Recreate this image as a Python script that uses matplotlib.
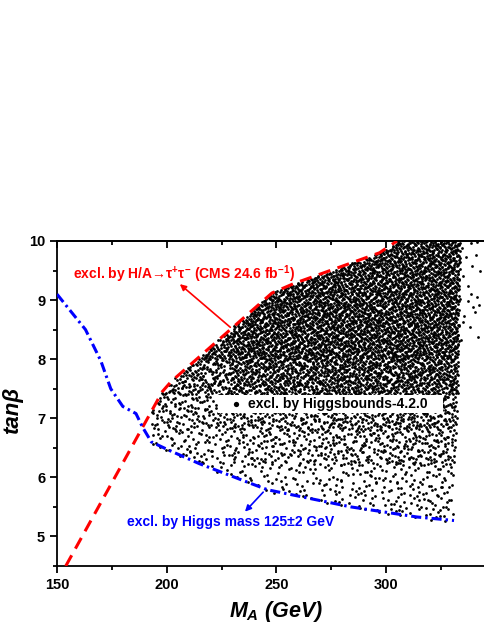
import matplotlib
matplotlib.use('Agg')
import matplotlib.pyplot as plt
from matplotlib.patches import Rectangle
from matplotlib.ticker import MultipleLocator
import numpy as np

plt.rcParams['font.family'] = ['Liberation Sans', 'DejaVu Sans']
plt.rcParams['font.weight'] = 'bold'
plt.rcParams['mathtext.fontset'] = 'custom'
plt.rcParams['mathtext.rm'] = 'Liberation Sans:bold'
plt.rcParams['mathtext.it'] = 'Liberation Sans:italic:bold'
plt.rcParams['mathtext.bf'] = 'Liberation Sans:bold'

# CMS H/A -> tau tau exclusion line (red dashed)
red_x = [154, 198, 202, 248, 258, 297, 305]
red_y = [4.5, 7.45, 7.62, 9.12, 9.28, 9.80, 10.0]

# Higgs mass 125+-2 GeV exclusion line (blue dash-dot)
blue_x = [150, 163, 170, 174.5, 180, 186, 189, 193, 201, 215, 236, 246, 284, 314, 331]
blue_y = [9.1, 8.5, 7.97, 7.5, 7.2, 7.08, 6.85, 6.6, 6.46, 6.23, 5.93, 5.79, 5.5, 5.33, 5.27]

# right edge of the scanned points
edge_y = [5.2, 7.0, 10.0]
edge_x = [330.5, 332.5, 334.0]

# relative point density of the Higgsbounds-excluded cloud (rows: tanb bands)
dens_xedges = [190, 230, 270, 300, 345]
dens_yedges = [5.0, 6.2, 6.8, 7.4, 8.0, 10.0]
dens_table = [
    [0.10, 0.12, 0.15, 0.18],
    [0.18, 0.25, 0.30, 0.35],
    [0.30, 0.40, 0.45, 0.50],
    [0.55, 0.80, 0.85, 0.85],
    [0.85, 1.00, 1.00, 1.00],
]
peak_density = 23  # points per (GeV x unit tanb) in the darkest part


def halton(n, base):
    i = np.arange(1, n + 1)
    f = 1.0
    r = np.zeros(n)
    while np.any(i > 0):
        f /= base
        r += f * (i % base)
        i //= base
    return r


# the cloud has thousands of dots that can't be read one by one:
# fill the outline above with a fixed Halton sequence
box_x0, box_w = 190, 155
box_y0, box_h = 5.2, 4.8
n_cand = int(box_w * box_h * peak_density)
cx = box_x0 + halton(n_cand, 2) * box_w
cy = box_y0 + halton(n_cand, 3) * box_h
cu = halton(n_cand, 5)

ix = np.clip(np.searchsorted(dens_xedges, cx) - 1, 0, len(dens_xedges) - 2)
iy = np.clip(np.searchsorted(dens_yedges, cy) - 1, 0, len(dens_yedges) - 2)
dens = np.array(dens_table)[iy, ix]

inside = (cy <= np.interp(cx, red_x, red_y)) & (cy >= np.interp(cx, blue_x, blue_y) - 0.03) & (cx >= 193)
main = inside & (cx <= np.interp(cy, edge_y, edge_x)) & (cu < dens)
stray = inside & (cx > np.interp(cy, edge_y, edge_x)) & (cx < 343) & (cy > 8.3) & (cu < 0.05)
keep = main | stray
pts_x = cx[keep]
pts_y = cy[keep]

fig = plt.figure(figsize=(4.85, 6.27), dpi=100)
ax = fig.add_axes([57 / 485, 61 / 627, 438.7 / 485, 325 / 627])

ax.plot(pts_x, pts_y, 'o', color='black', ms=2.0, mew=0, zorder=2)
ax.plot(red_x, red_y, color='red', lw=2.2, dashes=(4, 2.5), zorder=3)
ax.plot(blue_x, blue_y, color='blue', lw=2.2, dashes=(3.3, 1.3, 0.8, 1.3), zorder=3)

# white label box for the Higgsbounds points
ax.add_patch(Rectangle((223.5, 7.09), 102.5, 0.30, facecolor='white', edgecolor='none', zorder=4))
ax.plot([231.6], [7.24], 'o', color='black', ms=3.8, mew=0, zorder=5)
ax.text(237, 7.24, 'excl. by Higgsbounds-4.2.0', fontsize=10, fontweight='bold',
        ha='left', va='center', zorder=5)

ax.text(157.3, 9.44, 'excl. by H/A\u2192\u03c4$^{+}$\u03c4$^{-}$ (CMS 24.6 fb$^{-1}$)',
        color='red', fontsize=10, fontweight='bold', ha='left', va='center', zorder=5)
ax.annotate('', xy=(206, 9.27), xytext=(229, 8.54),
            arrowprops=dict(arrowstyle='-|>', color='red', lw=1.2,
                            mutation_scale=9, shrinkA=0, shrinkB=0))
ax.annotate('', xy=(235.7, 5.42), xytext=(244, 5.75),
            arrowprops=dict(arrowstyle='-|>', color='blue', lw=1.2,
                            mutation_scale=9, shrinkA=0, shrinkB=0))
ax.text(181.9, 5.24, 'excl. by Higgs mass 125\u00b12 GeV', color='blue', fontsize=10,
        fontweight='bold', ha='left', va='center')

ax.set_xlim(150, 350)
ax.set_ylim(4.5, 10)
ax.set_xticks([150, 200, 250, 300])
ax.set_yticks([5, 6, 7, 8, 9, 10])
ax.xaxis.set_minor_locator(MultipleLocator(25))
ax.yaxis.set_minor_locator(MultipleLocator(0.5))
ax.tick_params(which='major', direction='out', length=5, width=1.3, labelsize=10.5)
ax.tick_params(which='minor', direction='out', length=3, width=1.3)
for lab in ax.get_xticklabels() + ax.get_yticklabels():
    lab.set_fontweight('bold')

top = ax.secondary_xaxis('top')
top.set_xticks([150, 200, 250, 300])
top.xaxis.set_minor_locator(MultipleLocator(25))
top.tick_params(which='major', direction='in', length=5, width=1.3, labeltop=False)
top.tick_params(which='minor', direction='in', length=3, width=1.3)
top.spines['top'].set_linewidth(1.3)

for s in ax.spines.values():
    s.set_linewidth(1.3)

ax.set_xlabel(r'$M_A$ (GeV)', fontsize=15.5, fontweight='bold', fontstyle='italic', labelpad=5)
ax.set_ylabel('tan\u03b2', fontsize=16, fontweight='bold', fontstyle='italic')
ax.yaxis.set_label_coords(-0.077, 0.48)

fig.savefig('out.png', dpi=100)
